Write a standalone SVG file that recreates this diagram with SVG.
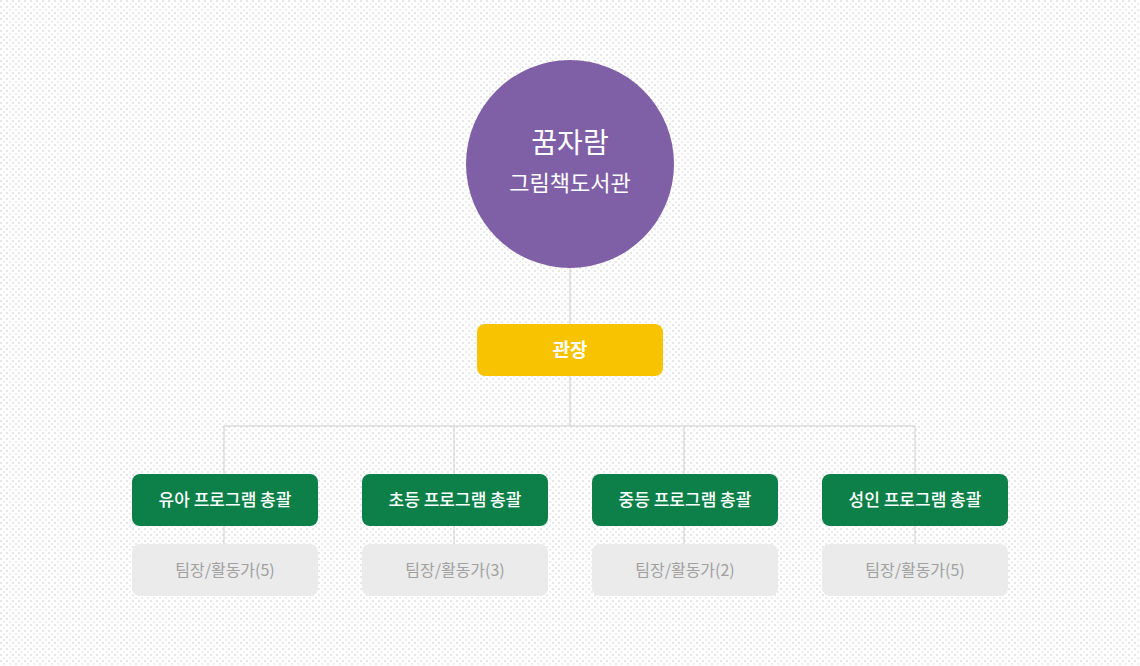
<svg xmlns="http://www.w3.org/2000/svg" width="1140" height="666" viewBox="0 0 1140 666">
<defs>
<pattern id="bg" width="6" height="6" patternUnits="userSpaceOnUse">
<rect width="6" height="6" fill="#ffffff"/>
<rect x="0" y="0" width="2" height="2" fill="#e6e6e6"/>
<rect x="3" y="3" width="2" height="2" fill="#ececec"/>
</pattern>
<style>
text{font-family:"Noto Sans CJK KR","Noto Sans",sans-serif;text-anchor:middle}
.g rect{fill:#0c8048}.g text{fill:#fff;font-size:17px;font-weight:500}
.t rect{fill:#ebebeb}.t text{fill:#a0a0a0;font-size:16px}
.c line{stroke:#cccccc;stroke-width:1}
</style>
</defs>
<rect width="1140" height="666" fill="url(#bg)"/>
<g class="c" id="connectors">
<line x1="570" y1="268" x2="570" y2="426"/>
<line x1="224" y1="426" x2="915" y2="426"/>
<line x1="224" y1="426" x2="224" y2="544"/>
<line x1="454" y1="426" x2="454" y2="544"/>
<line x1="684" y1="426" x2="684" y2="544"/>
<line x1="915" y1="426" x2="915" y2="544"/>
</g>
<g id="root"><circle cx="570" cy="164" r="104" fill="#7f5fa5"/>
<text x="570" y="153" fill="#fff" font-size="28">꿈자람</text>
<text x="570" y="191" fill="#fff" font-size="22">그림책도서관</text></g>
<g id="director"><rect x="477" y="324" width="186" height="52" rx="8" fill="#f8c300"/>
<text x="570" y="357" fill="#fff" font-size="19" font-weight="700">관장</text></g>
<g class="g" id="n1"><rect x="132" y="474" width="186" height="52" rx="8"/><text x="225" y="506">유아 프로그램 총괄</text></g>
<g class="g" id="n2"><rect x="362" y="474" width="186" height="52" rx="8"/><text x="455" y="506">초등 프로그램 총괄</text></g>
<g class="g" id="n3"><rect x="592" y="474" width="186" height="52" rx="8"/><text x="685" y="506">중등 프로그램 총괄</text></g>
<g class="g" id="n4"><rect x="822" y="474" width="186" height="52" rx="8"/><text x="915" y="506">성인 프로그램 총괄</text></g>
<g class="t" id="t1"><rect x="132" y="544" width="186" height="52" rx="8"/><text x="225" y="576">팀장/활동가(5)</text></g>
<g class="t" id="t2"><rect x="362" y="544" width="186" height="52" rx="8"/><text x="455" y="576">팀장/활동가(3)</text></g>
<g class="t" id="t3"><rect x="592" y="544" width="186" height="52" rx="8"/><text x="685" y="576">팀장/활동가(2)</text></g>
<g class="t" id="t4"><rect x="822" y="544" width="186" height="52" rx="8"/><text x="915" y="576">팀장/활동가(5)</text></g>
</svg>
